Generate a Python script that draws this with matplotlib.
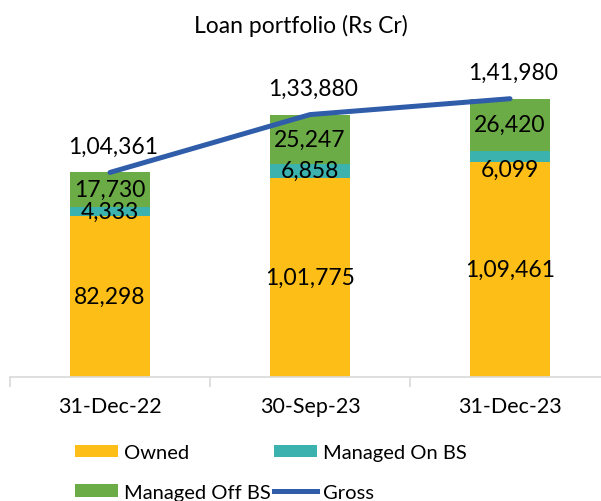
import numpy as np
import matplotlib
matplotlib.use("Agg")
import matplotlib.pyplot as plt
from matplotlib.lines import Line2D

plt.rcParams['font.family'] = ['Lato', 'DejaVu Sans']

# data
periods = ['31-Dec-22', '30-Sep-23', '31-Dec-23']
owned = [82298, 101775, 109461]
managed_on_bs = [4333, 6858, 6099]
managed_off_bs = [17730, 25247, 26420]
gross = [104361, 133880, 141980]

c_owned = '#FDBE17'
c_on = '#3BB2AD'
c_off = '#6BAC46'
c_gross = '#2F5DAA'

def fmt_in(v):
    # indian style grouping: 1,04,361
    s = str(int(v))
    if len(s) <= 3:
        return s
    head, tail = s[:-3], s[-3:]
    parts = []
    while len(head) > 2:
        parts.insert(0, head[-2:])
        head = head[:-2]
    if head:
        parts.insert(0, head)
    return ','.join(parts) + ',' + tail

fig = plt.figure(figsize=(6.01, 5.02), dpi=100)
ax = fig.add_axes([10 / 601, 1 - 378 / 502, 600 / 601, 313.6 / 502])

x = np.arange(len(periods))
w = 0.4
b1 = ax.bar(x, owned, w, color=c_owned, label='Owned')
b2 = ax.bar(x, managed_on_bs, w, bottom=owned, color=c_on, label='Managed On BS')
bottom2 = np.array(owned) + np.array(managed_on_bs)
b3 = ax.bar(x, managed_off_bs, w, bottom=bottom2, color=c_off, label='Managed Off BS')
ln, = ax.plot(x, gross, color=c_gross, lw=3.6, solid_capstyle='round', label='Gross')

fs = 16.5
# the last on-BS label sits a bit low in the original
on_shift = [0, 0, -9]
for i in range(len(x)):
    ax.text(x[i], owned[i] / 2, fmt_in(owned[i]), ha='center', va='center', fontsize=fs)
    ax.annotate(fmt_in(managed_on_bs[i]), (x[i], owned[i] + managed_on_bs[i] / 2),
                xytext=(0, on_shift[i]), textcoords='offset points',
                ha='center', va='center', fontsize=fs)
    ax.text(x[i], bottom2[i] + managed_off_bs[i] / 2, fmt_in(managed_off_bs[i]),
            ha='center', va='center', fontsize=fs)
    ax.annotate(fmt_in(gross[i]), (x[i], gross[i]), xytext=(2, 19),
                textcoords='offset points', ha='center', va='center', fontsize=fs)

ax.set_xlim(-0.5, 2.5)
ax.set_ylim(0, 160000)
ax.set_yticks([])
ax.set_xticks(x)
ax.set_xticklabels(periods, fontsize=15.5)
ax.tick_params(axis='x', which='major', length=0, pad=14)
ax.set_xticks([-0.5, 0.5, 1.5, 2.5], minor=True)
ax.tick_params(axis='x', which='minor', length=7, color='#D9D9D9', width=1.2)
for s in ['top', 'right', 'left']:
    ax.spines[s].set_visible(False)
ax.spines['bottom'].set_color('#D9D9D9')
ax.spines['bottom'].set_linewidth(1.2)

fig.text(0.5, 1 - 26 / 502, 'Loan portfolio (Rs Cr)', ha='center', va='center', fontsize=16.5)

# column-major order gives rows: Owned | Managed On BS, Managed Off BS | Gross
handles = [b1, b3, b2, Line2D([0], [0], color=c_gross, lw=3.6)]
labels = ['Owned', 'Managed Off BS', 'Managed On BS', 'Gross']
fig.legend(handles, labels, ncol=2, loc='upper left', bbox_to_anchor=(75 / 601, 1 - 445 / 502),
           frameon=False, fontsize=14.5, handlelength=2.15, handleheight=0.6,
           columnspacing=0.15, labelspacing=1.12, handletextpad=0.3,
           borderpad=0, borderaxespad=0)

fig.savefig('out.png', dpi=100)
